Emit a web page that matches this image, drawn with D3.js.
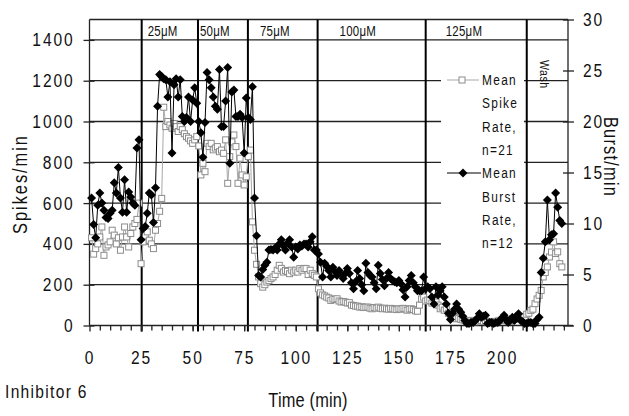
<!DOCTYPE html>
<html>
<head>
<meta charset="utf-8">
<script src="https://cdn.jsdelivr.net/npm/d3@7"></script>
<style>
  body { margin: 0; background: #fff; }
  svg text { font-family: "Liberation Sans", Arial, sans-serif; fill: #111; }
</style>
</head>
<body>
<svg id="chart" width="629" height="416"></svg>
<script>
// readings are one per minute, starting at minute 1
const firstMinute = 1

// mean spike rate (spikes/min, left axis), n=21
const spikeRate = [
  430, 350, 377, 400, 434, 483, 344, 385, 395, 410,
  467, 443, 400, 430, 369, 434, 483, 434, 385, 451,
  483, 500, 520, 600, 303, 410, 440, 459, 418, 400,
  377, 467, 500, 560, 623, 1070, 975, 1000, 983, 967,
  990, 975, 951, 975, 960, 940, 926, 918, 905, 893,
  910, 926, 880, 738, 795, 754, 893, 877, 893, 861,
  870, 877, 852, 860, 844, 910, 697, 828, 900, 934,
  877, 697, 820, 738, 689, 729, 828, 860, 508, 369,
  300, 238, 205, 188, 200, 213, 220, 230, 238, 250,
  271, 295, 280, 262, 270, 265, 254, 271, 262, 271,
  262, 279, 271, 280, 279, 250, 271, 254, 246, 238,
  180, 160, 150, 145, 139, 135, 123, 130, 128, 131,
  120, 115, 118, 115, 110, 112, 100, 98, 95, 95,
  90, 92, 88, 90, 90, 85, 82, 88, 85, 90,
  85, 82, 85, 82, 80, 84, 82, 80, 78, 82,
  80, 84, 82, 75, 80, 82, 78, 72, 70, 100,
  130, 139, 120, 125, 123, 110, 131, 115, 100, 82,
  90, 75, 82, 60, 49, 45, 40, 33, 35, 30,
  28, 25, 20, 22, 25, 20, 18, 22, 28, 25,
  20, 22, 18, 20, 15, 18, 20, 22, 25, 30,
  28, 25, 22, 20, 25, 30, 35, 40, 45, 30,
  40, 55, 60, 74, 80, 107, 130, 148, 172, 238,
  260, 287, 336, 360, 410, 353, 361, 303, 287
]

// mean burst rate (burst/min, right axis), n=12
const burstRate = [
  12.5, 9.9, 8.6, 11.8, 13.0, 12.0, 11.3, 10.6, 10.5, 11.0,
  11.3, 14.0, 13.0, 15.5, 12.5, 11.1, 14.3, 11.1, 13.1, 12.6,
  12.0, 11.8, 17.4, 18.2, 8.4, 9.5, 9.7, 11.0, 13.0, 12.8,
  10.1, 13.5, 21.5, 24.6, 24.4, 24.2, 24.1, 22.4, 23.9, 16.9,
  23.6, 24.2, 22.4, 24.1, 20.5, 20.0, 20.4, 22.4, 20.0, 22.1,
  23.3, 21.8, 20.0, 18.9, 16.5, 19.9, 24.8, 24.1, 23.3, 22.4,
  21.5, 21.2, 25.1, 19.5, 19.5, 22.0, 25.3, 15.9, 22.9, 23.1,
  20.5, 20.5, 20.7, 20.4, 16.9, 22.3, 20.4, 20.2, 23.4, 12.5,
  8.8, 4.9, 4.75, 5.5, 5.9, 6.2, 7.4, 7.45, 7.4, 7.6,
  7.4, 8.0, 8.4, 7.8, 7.4, 8.1, 8.4, 7.7, 6.7, 7.7,
  7.5, 7.9, 7.8, 8.0, 8.0, 7.7, 8.2, 8.7, 7.4, 7.4,
  7.0, 6.2, 4.75, 6.1, 5.8, 5.4, 4.75, 5.7, 5.3, 4.9,
  5.4, 5.0, 4.6, 5.1, 5.6, 5.1, 4.2, 3.6, 4.3, 5.4,
  4.6, 4.0, 3.4, 6.1, 5.2, 4.9, 4.75, 4.2, 3.6, 5.9,
  5.1, 4.5, 3.9, 4.6, 5.2, 4.6, 4.4, 4.3, 4.2, 4.4,
  4.1, 3.5, 2.8, 3.8, 4.4, 4.9, 4.2, 3.8, 3.4, 3.4,
  3.4, 4.75, 3.6, 3.8, 3.6, 2.8, 2.1, 3.8, 3.0, 3.4,
  3.8, 2.8, 2.1, 1.2, 0.6, 1.2, 1.6, 2.1, 1.6, 1.3,
  0.9, 0.5, 0.2, 0.2, 0.3, 0.3, 0.5, 0.7, 1.15, 0.8,
  0.9, 1.0, 0.2, 0.3, 0.3, 0.2, 0.3, 0.3, 0.5, 0.7,
  1.0, 0.6, 0.3, 0.6, 0.8, 0.5, 0.9, 1.15, 0.5, 0.4,
  0.2, 0.2, 0.3, 0.3, 0.2, 0.2, 0.6, 0.8, 5.2, 6.6,
  8.2, 12.3, 8.4, 8.9, 9.0, 13.0, 11.6, 10.3, 10.0
]

const timeTicks = [0, 25, 50, 75, 100, 125, 150, 175, 200]
const spikeTicks = [0, 200, 400, 600, 800, 1000, 1200, 1400]
const burstTicks = [0, 5, 10, 15, 20, 25, 30]

// dose changes (min) and their labels
const doseTimes = [25.3, 52.6, 76.8, 110.6, 163, 212]
const doseLabels = ['25μM', '50μM', '75μM', '100μM', '125μM', 'Wash']

const legendSpike = ['Mean', 'Spike', 'Rate,', 'n=21']
const legendBurst = ['Mean', 'Burst', 'Rate,', 'n=12']

const svg = d3.select('#chart')

const plotL = 89.5, plotR = 568, plotT = 19.5, plotB = 325.5
const narrow = 0.82 // horizontal squeeze, the original type is a condensed face

const x = d3.scaleLinear().domain([0, 232]).range([plotL, plotR])
const ySpike = d3.scaleLinear().domain([0, 1500]).range([plotB, plotT])
const yBurst = d3.scaleLinear().domain([0, 30]).range([plotB, plotT])

// squeeze axis tick labels in place
function squeeze(sel) {
  sel.each(function () {
    const t = d3.select(this)
    const x0 = +t.attr('x') || 0
    t.attr('x', x0 / narrow).attr('transform', `scale(${narrow},1)`)
  })
}

// free text, squeezed, optionally rotated
function label(px, py, rot, str, size, spacing, anchor) {
  return svg.append('text')
    .attr('transform', `translate(${px},${py}) rotate(${rot}) scale(${narrow},1)`)
    .attr('text-anchor', anchor || 'start')
    .style('font-size', size + 'px')
    .style('letter-spacing', spacing + 'px')
    .text(str)
}

// horizontal grid
svg.append('g')
  .selectAll('line')
  .data(spikeTicks.filter(d => d > 0))
  .enter().append('line')
  .attr('x1', plotL).attr('x2', plotR)
  .attr('y1', d => ySpike(d)).attr('y2', d => ySpike(d))
  .attr('stroke', '#222').attr('stroke-width', 1.3)

// top frame line
svg.append('line')
  .attr('x1', plotL).attr('x2', plotR)
  .attr('y1', plotT).attr('y2', plotT)
  .attr('stroke', '#222').attr('stroke-width', 1.3)

// legend background hides the grid behind it
svg.append('rect')
  .attr('x', 441).attr('y', 56).attr('width', 83).attr('height', 206)
  .attr('fill', '#fff')

// dose lines
svg.append('g')
  .selectAll('line')
  .data(doseTimes)
  .enter().append('line')
  .attr('x1', d => x(d)).attr('x2', d => x(d))
  .attr('y1', plotT).attr('y2', plotB + 6)
  .attr('stroke', '#000').attr('stroke-width', 2)

// dose labels (offset from the line, px)
const labelShift = [6, 2, 12, 22, 20]
doseLabels.slice(0, 5).forEach((d, i) => {
  label(x(doseTimes[i]) + labelShift[i], 36, 0, d, 14, 0.3)
})
label(x(doseTimes[5]) + 13, 60, 90, doseLabels[5], 13, 0.5)

// axes
const fontAxis = g => g.selectAll('text')
  .style('font-size', '19px')
  .style('letter-spacing', '2.3px')
  .attr('fill', '#111')

const axLeft = svg.append('g')
  .attr('transform', `translate(${plotL},0)`)
  .call(d3.axisLeft(ySpike).tickValues(spikeTicks).tickFormat(d3.format('d'))
    .tickSizeOuter(0).tickSize(6).tickPadding(9))
axLeft.select('.domain').attr('d', `M0,${plotT}V${plotB}`)
axLeft.selectAll('.tick line').attr('x2', -6).attr('x1', 5)
axLeft.call(fontAxis)
axLeft.selectAll('text').call(squeeze)

const axRight = svg.append('g')
  .attr('transform', `translate(${plotR},0)`)
  .call(d3.axisRight(yBurst).tickValues(burstTicks).tickSizeOuter(0).tickSize(6).tickPadding(9))
axRight.select('.domain').attr('d', `M0,${plotT}V${plotB}`)
axRight.selectAll('.tick line').attr('x1', -5).attr('x2', 6)
axRight.call(fontAxis)
axRight.selectAll('text').call(squeeze)

const axBottom = svg.append('g')
  .attr('transform', `translate(0,${plotB})`)
  .call(d3.axisBottom(x).tickValues(timeTicks).tickSizeOuter(0).tickSize(6).tickPadding(19))
axBottom.select('.domain').attr('d', `M${plotL},0H${plotR + 5}`)
axBottom.call(fontAxis)
axBottom.selectAll('text').call(squeeze)

// minor ticks every 5 min
svg.append('g')
  .attr('transform', `translate(0,${plotB})`)
  .call(d3.axisBottom(x).tickValues(d3.range(5, 232, 5)).tickSize(5).tickFormat(''))
  .call(g => g.select('.domain').remove())

svg.selectAll('.domain, .tick line').attr('stroke', '#222').attr('stroke-width', 1.3)

// series
const spikeLine = d3.line()
  .x((d, i) => x(firstMinute + i))
  .y(d => ySpike(d))
const burstLine = d3.line()
  .x((d, i) => x(firstMinute + i))
  .y(d => yBurst(d))

svg.append('path')
  .datum(spikeRate)
  .attr('d', spikeLine)
  .attr('fill', 'none').attr('stroke', '#a8a8a8').attr('stroke-width', 1)

svg.append('g')
  .selectAll('rect')
  .data(spikeRate)
  .enter().append('rect')
  .attr('x', (d, i) => x(firstMinute + i) - 3)
  .attr('y', d => ySpike(d) - 3)
  .attr('width', 6).attr('height', 6)
  .attr('fill', '#fff').attr('stroke', '#8c8c8c').attr('stroke-width', 1)

svg.append('path')
  .datum(burstRate)
  .attr('d', burstLine)
  .attr('fill', 'none').attr('stroke', '#000').attr('stroke-width', 1)

const diamond = 'M0,-4.5L4.5,0L0,4.5L-4.5,0Z'
svg.append('g')
  .selectAll('path')
  .data(burstRate)
  .enter().append('path')
  .attr('d', diamond)
  .attr('transform', (d, i) => `translate(${x(firstMinute + i)},${yBurst(d)})`)
  .attr('fill', '#000')

// axis titles
label(27, 184, -90, 'Spikes/min', 20, 2.4, 'middle')
label(604, 157, 90, 'Burst/min', 20, 1.5, 'middle')
label(308, 407, 0, 'Time (min)', 20, 0.2, 'middle')
label(5, 398, 0, 'Inhibitor 6', 19, 1.6)

// legend
const legend = svg.append('g').attr('transform', 'translate(447,0)')
legend.append('line')
  .attr('x1', 0).attr('x2', 32).attr('y1', 80).attr('y2', 80)
  .attr('stroke', '#a8a8a8')
legend.append('rect')
  .attr('x', 12).attr('y', 77).attr('width', 6).attr('height', 6)
  .attr('fill', '#fff').attr('stroke', '#8c8c8c')
legend.append('line')
  .attr('x1', 0).attr('x2', 34).attr('y1', 173).attr('y2', 173)
  .attr('stroke', '#000')
legend.append('path')
  .attr('d', diamond)
  .attr('transform', 'translate(16,173)')
  .attr('fill', '#000')

legendSpike.concat(legendBurst).forEach((d, i) => {
  label(482, 85 + i * 23.3, 0, d, 14.5, 1.6)
})
</script>
</body>
</html>
